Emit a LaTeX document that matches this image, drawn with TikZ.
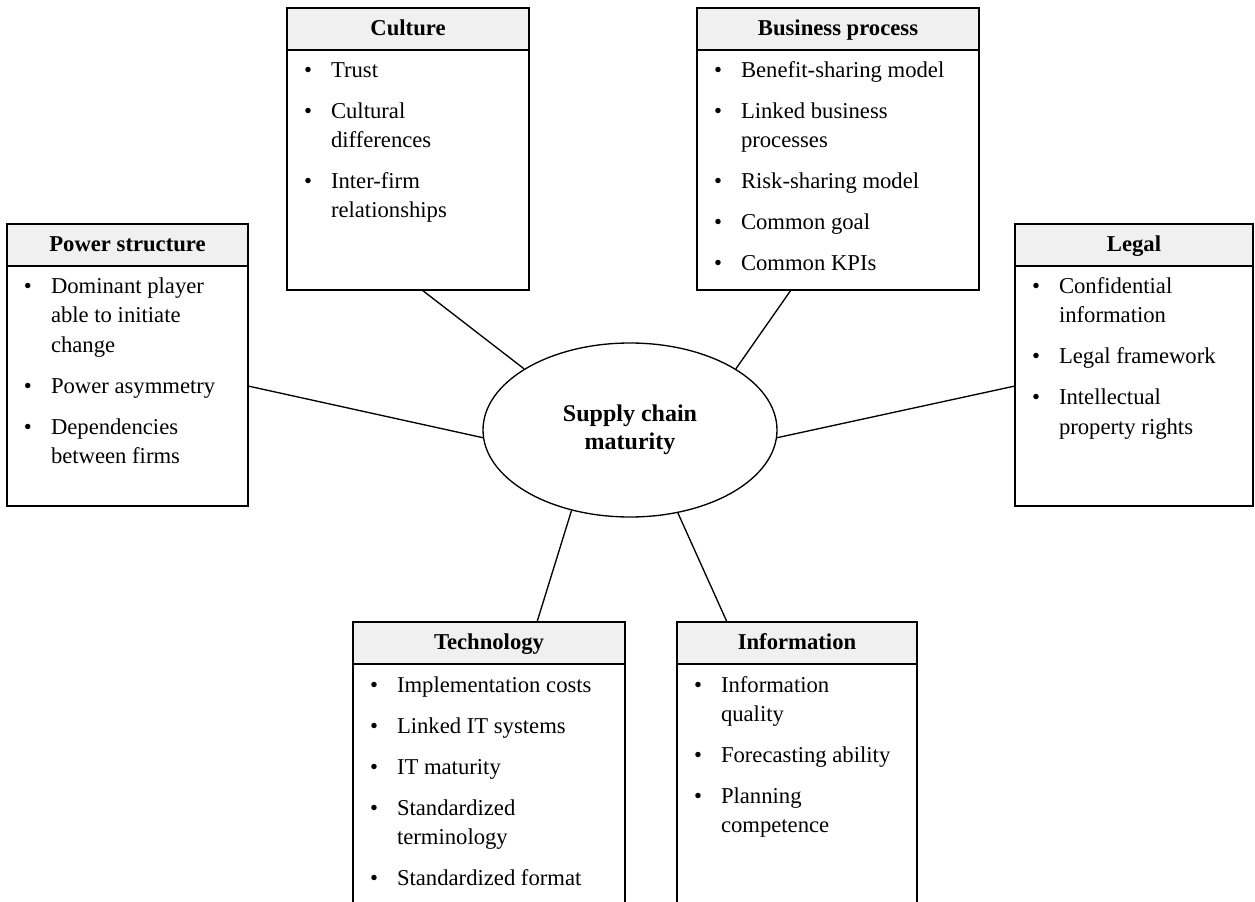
\documentclass[tikz,border=0pt]{standalone}
\usepackage{fontspec}
\setmainfont{Liberation Serif}
\usetikzlibrary{positioning,shapes.geometric}

% bullet list used inside the factor boxes
\newcommand{\topstrut}{\rule{0pt}{21pt}}
\newenvironment{factors}{\begin{list}{\textbullet}{%
  \setlength\leftmargin{33pt}\setlength\labelwidth{20.25pt}%
  \setlength\labelsep{0pt}\setlength\itemsep{9pt}%
  \setlength\parsep{0pt}\setlength\topsep{0pt}\setlength\partopsep{0pt}%
  \renewcommand\makelabel[1]{##1\hfil}}}{\end{list}}
\newcommand{\panelbox}[3]{\begin{minipage}[t][#2][t]{#1}\begin{factors}#3\end{factors}\end{minipage}}

\begin{document}
\begin{tikzpicture}[x=0.75pt,y=0.75pt,font=\fontsize{17}{21.75}\selectfont]
\path[use as bounding box] (0,0) rectangle (1255,901);
\tikzstyle{header}=[draw, fill=black!6, line width=1pt, inner sep=0pt, outer sep=0pt, minimum height=31.5pt, text height=13pt, text depth=3.5pt, font=\fontsize{17}{21.75}\selectfont\bfseries, anchor=north west]
\tikzstyle{panel}=[draw, line width=1pt, inner sep=0pt, outer sep=0pt]
\tikzstyle{link}=[line width=1pt]

\node[draw, ellipse, line width=1pt, inner sep=0pt, minimum width=220.5pt, minimum height=130.5pt, align=center, font=\fontsize{18}{21}\selectfont\bfseries] (hub) at (630,471) {Supply chain\\maturity};

\node[header, minimum width=180.75pt] (powhead) at (7,677) {Power structure};
\node[panel, below=0pt of powhead] (powbody) {\panelbox{180.75pt}{180pt}{
  \item\topstrut Dominant player\\able to initiate\\change
  \item Power asymmetry
  \item Dependencies\\between firms}};

\node[header, minimum width=181.5pt] (culhead) at (287,893) {Culture};
\node[panel, below=0pt of culhead] (culbody) {\panelbox{181.5pt}{180pt}{
  \item\topstrut Trust
  \item Cultural\\differences
  \item Inter-firm\\relationships}};

\node[header, minimum width=211.5pt] (bushead) at (697,893) {Business process};
\node[panel, below=0pt of bushead] (busbody) {\panelbox{211.5pt}{180pt}{
  \item\topstrut Benefit-sharing model
  \item Linked business\\processes
  \item Risk-sharing model
  \item Common goal
  \item Common KPIs}};

\node[header, minimum width=178.5pt] (leghead) at (1015,677) {Legal};
\node[panel, below=0pt of leghead] (legbody) {\panelbox{178.5pt}{180pt}{
  \item\topstrut Confidential\\information
  \item Legal framework
  \item Intellectual\\property rights}};

\node[header, minimum width=204pt] (techead) at (353,279) {Technology};
\node[panel, below=0pt of techead] (tecbody) {\panelbox{204pt}{195pt}{
  \item\topstrut Implementation costs
  \item Linked IT systems
  \item IT maturity
  \item Standardized\\terminology
  \item Standardized format}};

\node[header, minimum width=180pt] (infhead) at (677,279) {Information};
\node[panel, below=0pt of infhead] (infbody) {\panelbox{180pt}{195pt}{
  \item\topstrut Information\\quality
  \item Forecasting ability
  \item Planning\\competence}};

\draw[link] ([xshift=10.5pt]culbody.south) -- (hub.150);
\draw[link] ([xshift=-35.25pt]busbody.south) -- (hub.30);
\draw[link] (powbody.east) -- (hub.183);
\draw[link] (legbody.west) -- (hub.357);
\draw[link] (hub.234) -- ([xshift=36pt]techead.north);
\draw[link] (hub.300) -- ([xshift=-52.5pt]infhead.north);
\end{tikzpicture}
\end{document}
